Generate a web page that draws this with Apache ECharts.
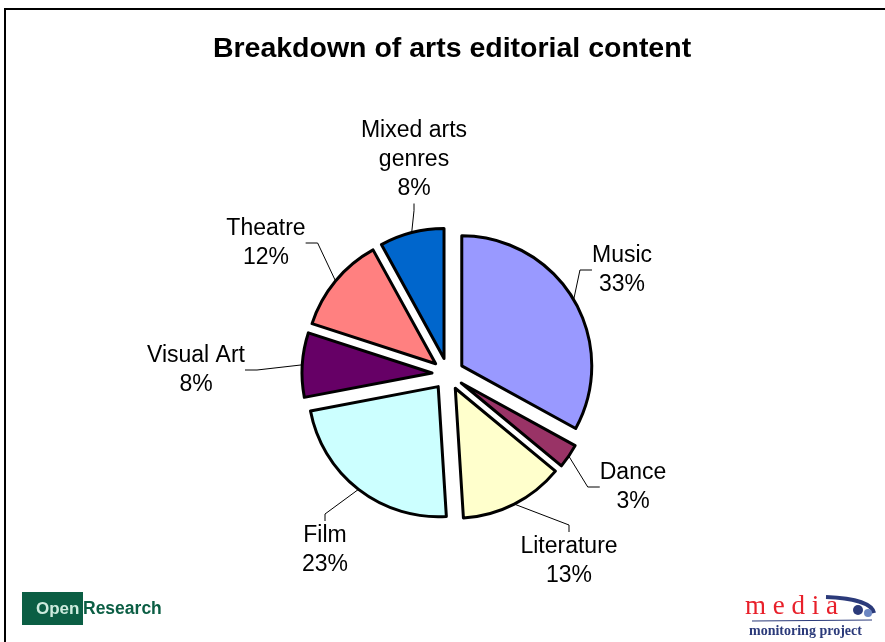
<!DOCTYPE html>
<html>
<head>
<meta charset="utf-8">
<script src="https://cdn.jsdelivr.net/npm/echarts@6/dist/echarts.min.js"></script>
<style>
  html, body { margin: 0; padding: 0; background: #fff; }
  #chart { width: 885px; height: 642px; }
</style>
</head>
<body>
<div id="chart"></div>
<script>
// Share of arts editorial content by genre (percent)
const categories = ['Music', 'Dance', 'Literature', 'Film', 'Visual Art', 'Theatre', 'Mixed arts\ngenres'];
const shares = [33, 3, 13, 23, 8, 12, 8];
const sliceColors = ['#9999FF', '#993366', '#FFFFCC', '#CCFFFF', '#660066', '#FF8080', '#0066CC'];

// where each slice's caption block is centred
const captionCenters = [[622, 270], [633, 487], [569, 561], [325, 550], [196, 370], [266, 243], [414, 160]];

const FONT = '"Liberation Sans", Arial, Helvetica, sans-serif';
const PIE_CENTER = [448, 374];
const PIE_RADIUS = 130;
const EXPLODE = 16;
const LINE_H = 29;
const STUB = 7;

const chart = echarts.init(document.getElementById('chart'), null, { renderer: 'canvas' });

// Every slice is pulled out along its own bisector: one pie layer per slice,
// each layer shifted outward and showing only its own wedge.
const total = shares.reduce((a, b) => a + b, 0);
let running = 0;
const pieLayers = categories.map((cat, i) => {
  const mid = (running + shares[i] / 2) / total * 2 * Math.PI;
  running += shares[i];
  const cx = PIE_CENTER[0] + EXPLODE * Math.sin(mid);
  const cy = PIE_CENTER[1] - EXPLODE * Math.cos(mid);
  return {
    type: 'pie',
    center: [cx, cy],
    radius: [0, PIE_RADIUS],
    startAngle: 90,
    clockwise: true,
    silent: true,
    avoidLabelOverlap: false,
    emphasis: { disabled: true },
    label: {
      show: true,
      position: 'outside',
      formatter: p => p.name + '\n' + p.value + '%',
      fontFamily: FONT,
      fontSize: 23,
      lineHeight: LINE_H,
      color: '#000'
    },
    labelLine: {
      show: true,
      length: 14,
      length2: 12,
      lineStyle: { color: '#000', width: 1 }
    },
    labelLayout: function (params) {
      if (params.dataIndex !== i) return {};
      const c = captionCenters[i];
      const out = { x: c[0], y: c[1], align: 'center', verticalAlign: 'middle', hideOverlap: false };
      const pts = params.labelLinePoints;
      if (pts && pts.length) {
        const a = pts[0];
        const dx = c[0] - a[0];
        const dy = c[1] - a[1];
        // captions lying mostly above/below their wedge get a vertical stub
        if (Math.abs(dy) >= Math.abs(dx)) {
          const lines = categories[i].split('\n').length + 1;
          const edge = c[1] + Math.sign(-dy) * lines * LINE_H / 2;
          const knee = edge + Math.sign(-dy) * STUB;
          out.labelLinePoints = [a, [c[0], knee], [c[0], edge]];
        }
      }
      return out;
    },
    data: categories.map((name, j) => j === i
      ? { name: name, value: shares[j],
          itemStyle: { color: sliceColors[j], borderColor: '#000', borderWidth: 3 } }
      : { name: name, value: shares[j],
          itemStyle: { color: 'rgba(0,0,0,0)', borderWidth: 0 },
          label: { show: false }, labelLine: { show: false } })
  };
});

chart.setOption({
  backgroundColor: '#ffffff',
  animation: false,
  title: {
    text: 'Breakdown of arts editorial content',
    left: 447,
    top: 30,
    textAlign: 'center',
    textStyle: { fontFamily: FONT, fontSize: 28.5, fontWeight: 'bold', color: '#000' }
  },
  graphic: [
    // chart frame
    { type: 'rect', shape: { x: 5, y: 9, width: 900, height: 660 },
      style: { fill: 'none', stroke: '#000', lineWidth: 2 }, silent: true },
    // OpenResearch mark
    { type: 'rect', shape: { x: 22, y: 592, width: 61, height: 33 },
      style: { fill: '#0B5E44' }, silent: true },
    { type: 'text', x: 36, y: 609,
      style: { text: 'Open', fill: '#CDEBDD', font: 'bold 17px ' + FONT, verticalAlign: 'middle' }, silent: true },
    { type: 'text', x: 83, y: 609,
      style: { text: 'Research', fill: '#0B5E44', font: 'bold 17.5px ' + FONT, verticalAlign: 'middle' }, silent: true },
    // media monitoring project mark
    { type: 'text', x: 745, y: 607,
      style: { text: 'm e d i a', fill: '#E8202A', font: '27px "Liberation Serif", "Times New Roman", serif', verticalAlign: 'middle' }, silent: true },
    { type: 'bezierCurve', shape: { x1: 826, y1: 597, x2: 874, y2: 613, cpx1: 852, cpy1: 598, cpx2: 872, cpy2: 603 },
      style: { stroke: '#2B3A7A', lineWidth: 4, fill: 'none' }, silent: true },
    { type: 'circle', shape: { cx: 858, cy: 610, r: 5 }, style: { fill: '#2B3A7A' }, silent: true },
    { type: 'circle', shape: { cx: 868, cy: 613, r: 4 }, style: { fill: '#6C86C2' }, silent: true },
    { type: 'line', shape: { x1: 752, y1: 621, x2: 872, y2: 620 },
      style: { stroke: '#2B3A7A', lineWidth: 1 }, silent: true },
    { type: 'text', x: 749, y: 631,
      style: { text: 'monitoring project', fill: '#2B3A7A', font: 'bold 14px "Liberation Serif", "Times New Roman", serif', verticalAlign: 'middle' }, silent: true }
  ],
  series: pieLayers
});
</script>
</body>
</html>
